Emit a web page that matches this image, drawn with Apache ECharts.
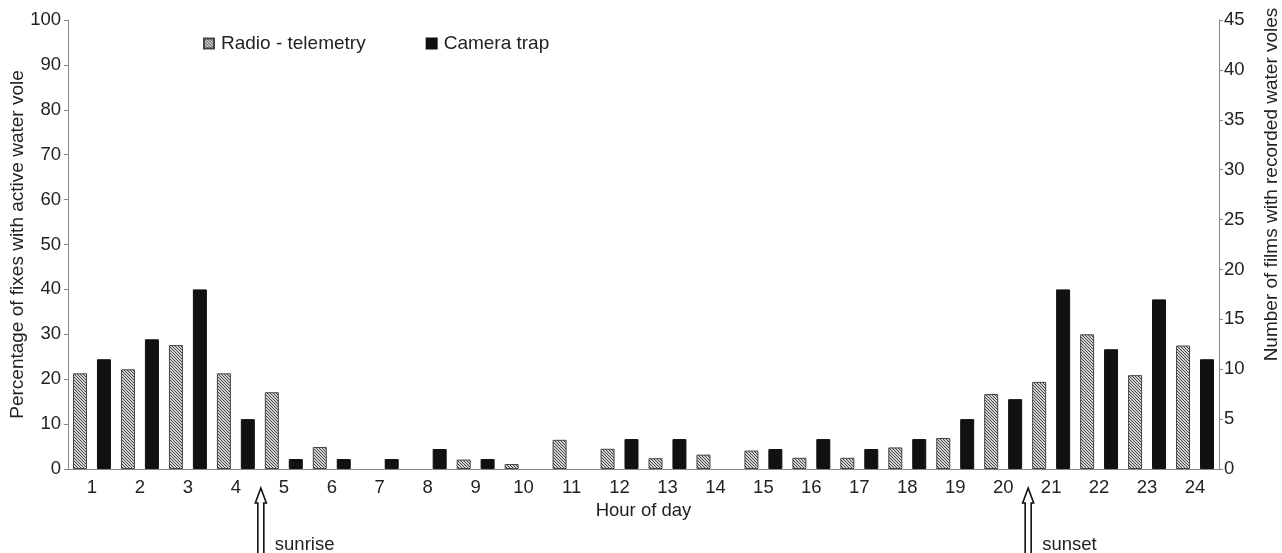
<!DOCTYPE html>
<html>
<head>
<meta charset="utf-8">
<title>Water vole activity</title>
<script src="https://cdn.jsdelivr.net/npm/echarts@6/dist/echarts.min.js"></script>
<style>
    html, body { margin: 0; padding: 0; background: #fff; }
    #chart { width: 1282px; height: 553px; }
</style>
</head>
<body>
<div id="chart"></div>
<script>
    'use strict';

    // hour categories
    var hours = ['1', '2', '3', '4', '5', '6', '7', '8', '9', '10', '11', '12',
        '13', '14', '15', '16', '17', '18', '19', '20', '21', '22', '23', '24'];
    // percentage of fixes with active water vole (left axis)
    var radioPct = [21.3, 22.2, 27.6, 21.3, 17.1, 4.9, 0, 0, 2.1, 1.1, 6.5, 4.5,
        2.4, 3.2, 4.1, 2.5, 2.5, 4.8, 6.9, 16.7, 19.4, 30, 20.9, 27.5];
    // number of films with recorded water voles (right axis)
    var cameraFilms = [11, 13, 18, 5, 1, 1, 1, 2, 1, 0, 0, 3,
        3, 0, 2, 3, 2, 3, 5, 7, 18, 12, 17, 11];
    var leftTicks = [0, 100, 10];
    var rightTicks = [0, 45, 5];
    // sunrise / sunset are drawn after these hours
    var sunMarks = [['4', 'sunrise'], ['20', 'sunset']];

    var font = 'Liberation Sans, Arial, sans-serif';
    var myChart = echarts.init(document.getElementById('chart'));

    // diagonal hatch for the telemetry bars
    function makeHatch() {
        var c = document.createElement('canvas');
        c.width = 3;
        c.height = 3;
        var ctx = c.getContext('2d');
        ctx.fillStyle = '#d4d4d4';
        ctx.fillRect(0, 0, 3, 3);
        ctx.strokeStyle = '#444';
        ctx.lineWidth = 1;
        ctx.beginPath();
        ctx.moveTo(-1, -1); ctx.lineTo(4, 4);
        ctx.moveTo(-1, 2); ctx.lineTo(1, 4);
        ctx.moveTo(2, -1); ctx.lineTo(4, 1);
        ctx.stroke();
        return { image: c, repeat: 'repeat' };
    }

    // zero values draw no bar at all
    function noZero(arr) {
        return arr.map(function (v) { return v === 0 ? null : v; });
    }

    var hatch = makeHatch();

    var option = {
        animation: false,
        textStyle: { fontFamily: font },
        legend: {
            left: 203,
            top: 34,
            padding: 0,
            itemWidth: 10,
            itemHeight: 10,
            itemGap: 60,
            icon: 'rect',
            textStyle: { fontSize: 19, color: '#222', fontFamily: font, padding: [0, 0, 0, 2] },
            data: ['Radio - telemetry', 'Camera trap']
        },
        grid: { left: 68, right: 63, top: 20, bottom: 84, outerBoundsMode: 'none' },
        xAxis: {
            type: 'category',
            data: hours,
            name: 'Hour of day',
            nameLocation: 'middle',
            nameGap: 28,
            nameTextStyle: { fontSize: 18.5, color: '#222' },
            axisLine: { lineStyle: { color: '#888' } },
            axisTick: { length: 4, lineStyle: { color: '#888' } },
            axisLabel: { fontSize: 18.5, color: '#222', margin: 9 }
        },
        yAxis: [{
            type: 'value',
            min: leftTicks[0],
            max: leftTicks[1],
            interval: leftTicks[2],
            name: 'Percentage of fixes with active water vole',
            nameLocation: 'middle',
            nameGap: 41,
            nameMoveOverlap: false,
            nameTextStyle: { fontSize: 19, color: '#222' },
            splitLine: { show: false },
            axisLine: { show: true, lineStyle: { color: '#888' } },
            axisTick: { show: true, length: 4, lineStyle: { color: '#888' } },
            axisLabel: { fontSize: 18.5, color: '#222', margin: 7 }
        }, {
            type: 'value',
            position: 'right',
            min: rightTicks[0],
            max: rightTicks[1],
            interval: rightTicks[2],
            name: 'Number of films with recorded water voles',
            nameLocation: 'middle',
            nameGap: 43,
            nameMoveOverlap: false,
            nameTextStyle: { fontSize: 19, color: '#222', padding: [0, 0, 0, 120] },
            splitLine: { show: false },
            axisLine: { show: true, lineStyle: { color: '#888' } },
            axisTick: { show: true, length: 4, lineStyle: { color: '#888' } },
            axisLabel: { fontSize: 18.5, color: '#222', margin: 5 }
        }],
        series: [{
            name: 'Radio - telemetry',
            type: 'bar',
            yAxisIndex: 0,
            data: noZero(radioPct),
            barWidth: 14,
            barGap: '71%',
            itemStyle: { color: hatch, borderColor: '#444', borderWidth: 1 }
        }, {
            name: 'Camera trap',
            type: 'bar',
            yAxisIndex: 1,
            data: noZero(cameraFilms),
            barWidth: 14,
            itemStyle: { color: '#111', borderColor: '#111', borderWidth: 1 }
        }]
    };

    myChart.setOption(option);

    // 空心箭头 + 文字, 放在类别边界上
    function sunArrows() {
        var items = [];
        var xBottom = myChart.convertToPixel({ yAxisIndex: 0 }, 0);
        sunMarks.forEach(function (m) {
            var idx = hours.indexOf(m[0]);
            var x0 = myChart.convertToPixel({ xAxisIndex: 0 }, hours[idx]);
            var x1 = myChart.convertToPixel({ xAxisIndex: 0 }, hours[idx + 1]);
            var x = (x0 + x1) / 2 + 1;
            var tip = xBottom + 19;
            items.push({
                type: 'polygon',
                shape: {
                    points: [[x, tip], [x + 5.5, tip + 15], [x + 3, tip + 15], [x + 3, 560],
                        [x - 3, 560], [x - 3, tip + 15], [x - 5.5, tip + 15]]
                },
                style: { fill: '#fff', stroke: '#111', lineWidth: 1.6 }
            });
            items.push({
                type: 'text',
                x: x + 14,
                y: 545,
                style: {
                    text: m[1], fontSize: 18.5, fill: '#222', fontFamily: font,
                    verticalAlign: 'middle'
                }
            });
        });
        myChart.setOption({ graphic: items });
    }

    sunArrows();
</script>
</body>
</html>
